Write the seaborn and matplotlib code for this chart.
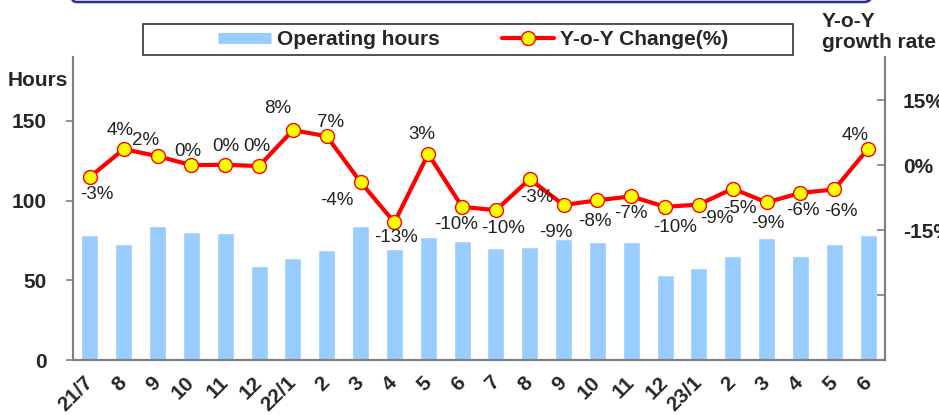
import numpy as np
import pandas as pd
import matplotlib
matplotlib.use("Agg")
import matplotlib.pyplot as plt
import matplotlib.patches as mpatches
from matplotlib.lines import Line2D
from matplotlib.transforms import IdentityTransform
import seaborn as sns

# data
months = ["21/7", "8", "9", "10", "11", "12",
          "22/1", "2", "3", "4", "5", "6", "7", "8", "9", "10", "11", "12",
          "23/1", "2", "3", "4", "5", "6"]
hours = [78.1, 72.9, 84.0, 80.4, 79.8, 59.0,
         63.8, 68.8, 84.2, 69.4, 77.1, 74.8, 70.0, 70.6, 75.8, 74.0, 74.2, 53.1,
         57.9, 65.0, 76.7, 65.0, 72.9, 78.1]
yoy = [-2.7, 3.7, 2.1, 0.0, 0.1, -0.2,
       8.1, 6.7, -3.9, -13.2, 2.6, -9.6, -10.4, -3.2, -9.2, -8.1, -7.2, -9.6,
       -9.1, -5.4, -8.6, -6.4, -5.6, 3.8]
# where each percentage label sits relative to its point (pixels)
label_offsets = [(7, -18), (-4, 19), (-12, 16), (-4, 14), (1, 18), (-2, 20),
                 (-15, 22), (4, 14), (-24, -18), (2, -15), (-6, 19), (-6, -18),
                 (7, -18), (7, -18), (-8, -27), (-3, -21), (0, -17), (10, -21),
                 (18, -14), (7, -20), (1, -21), (2, -18), (7, -22), (-13, 13)]

BAR = "#99CCFF"
GRAY = "#808080"

sns.set_style("white")
plt.rcParams["font.family"] = ["Liberation Sans", "DejaVu Sans"]

df = pd.DataFrame({"month": [f"{i}_{m}" for i, m in enumerate(months)],
                   "hours": hours, "yoy": yoy, "x": np.arange(len(months))})

fig = plt.figure(figsize=(9.39, 4.15), dpi=100)
ax = fig.add_axes([73 / 939, 55 / 415, (885 - 73) / 939, (358 - 55) / 415])

sns.barplot(data=df, x="month", y="hours", color=BAR, saturation=1,
            width=0.5, ax=ax)
ax.set_xlim(-0.5, len(months) - 0.5)
ax.set_ylim(0, 190)
ax.set_yticks([0, 50, 100, 150])
ax.set_xlabel("")
ax.set_ylabel("")
ax.set_xticks(np.arange(len(months)))
ax.set_xticklabels(months, rotation=45, ha="right", va="center",
                   rotation_mode="anchor", fontweight="bold", fontsize=15)
ax.set_xticks(np.arange(0.5, len(months) - 1, 1), minor=True)
ax.tick_params(axis="x", which="major", length=0, pad=14)
ax.tick_params(axis="x", which="minor", direction="in", length=5,
               width=1.2, color=GRAY)
ax.tick_params(axis="y", direction="out", length=5, width=1.2, color=GRAY,
               pad=14, labelsize=15)
for lab in ax.get_yticklabels():
    lab.set_fontweight("bold")

ax2 = ax.twinx()
sns.lineplot(data=df, x="x", y="yoy", ax=ax2, color="red", lw=3,
             marker="o", markersize=10, markerfacecolor="yellow",
             markeredgecolor="red", markeredgewidth=1, legend=False)
ax2.set_ylim(-45, 25)
ax2.set_yticks([15, 0, -15, -30, -45])
ax2.set_yticklabels(["15%", "0%", "-15%", "", ""], fontweight="bold",
                    fontsize=15)
ax2.tick_params(axis="y", direction="in", length=6, width=1.2, color=GRAY,
                pad=13)
ax2.set_ylabel("")
ax2.set_xlabel("")
ax2.set_xlim(-0.5, len(months) - 0.5)

for a in (ax, ax2):
    a.spines["top"].set_visible(False)
    for s in ("left", "right", "bottom"):
        a.spines[s].set_color(GRAY)
        a.spines[s].set_linewidth(1.5)

for xi, v, (dx, dy) in zip(df["x"], yoy, label_offsets):
    ax2.annotate(f"{round(v)}%", (xi, v), xytext=(dx, dy),
                 textcoords="offset pixels", ha="center", va="center",
                 fontsize=13.5, color="#222222")

fig.text(8 / 939, 1 - 80 / 415, "Hours", ha="left", va="center",
         fontsize=15, fontweight="bold")
fig.text(822 / 939, 1 - 32 / 415, "Y-o-Y\ngrowth rate", ha="left",
         va="center", fontsize=15, fontweight="bold", linespacing=1.15)

# legend box
fig.patches.append(mpatches.Rectangle((143, 415 - 55), 650, 31,
                                      transform=IdentityTransform(),
                                      fill=False, edgecolor="#333333", lw=1.2))
handles = [Line2D([], [], color=BAR, lw=8, solid_capstyle="butt"),
           Line2D([], [], color="red", lw=3, marker="o", markersize=10,
                  markerfacecolor="yellow", markeredgecolor="red")]
fig.legend(handles, ["Operating hours", "Y-o-Y Change(%)"], ncol=2,
           loc="center", bbox_to_anchor=(473.5 / 939, 1 - 39.5 / 415),
           frameon=False, prop={"weight": "bold", "size": 15},
           handlelength=2.5, handletextpad=0.3, columnspacing=3.0)

# bottom edge of the title box above the chart
fig.patches.append(mpatches.FancyBboxPatch((68, 413), 804, 40,
                                           boxstyle="round,pad=0,rounding_size=8",
                                           transform=IdentityTransform(),
                                           fill=False, edgecolor="#2B2B9A",
                                           lw=1.8))

fig.savefig("out.png", dpi=100)
